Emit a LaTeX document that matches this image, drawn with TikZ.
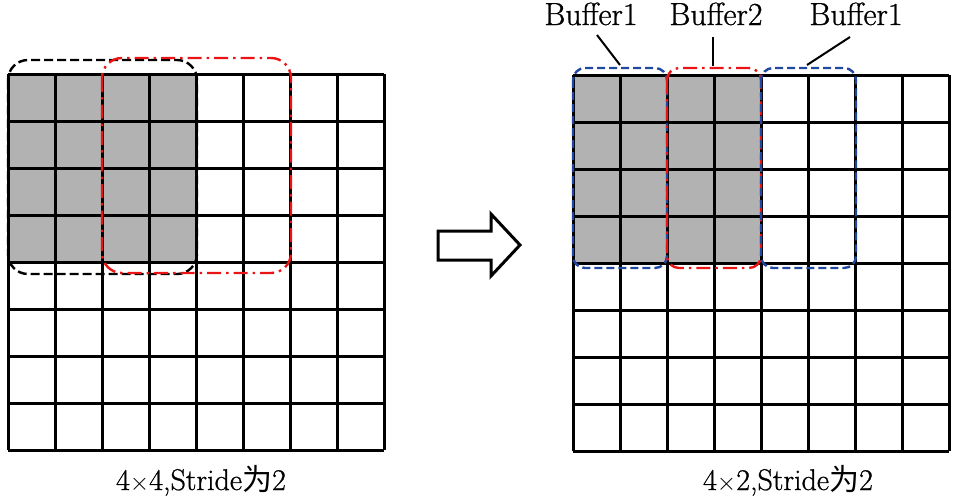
\documentclass[tikz,border=0pt]{standalone}
\usepackage{fontspec}
\newfontfamily\cjk{Noto Sans CJK SC}
\newfontfamily\heavy{Latin Modern Roman}[FakeBold=0.8]
\definecolor{cellgray}{RGB}{178,178,178}
\definecolor{bufblue}{RGB}{32,72,160}
\definecolor{bufred}{RGB}{235,20,20}
\tikzset{
  gridline/.style={line width=3pt, black},
  blackbox/.style={line width=2.4pt, black, dash pattern=on 9pt off 4pt, rounded corners=20pt},
  redbox/.style={line width=2.4pt, bufred, dash pattern=on 14pt off 5pt on 2.5pt off 5pt, rounded corners=20pt},
  bluebox/.style={line width=2.4pt, bufblue, dash pattern=on 8pt off 4pt, rounded corners=12pt},
  redboxs/.style={line width=2.4pt, bufred, dash pattern=on 14pt off 5pt on 2.5pt off 5pt, rounded corners=12pt},
  leader/.style={line width=2pt, black},
  lbl/.style={font=\heavy\fontsize{32}{34}\selectfont, inner sep=0pt, anchor=base},
  captext/.style={font=\heavy\fontsize{30}{32}\selectfont, inner sep=0pt, anchor=base},
  bigarrow/.style={line width=3pt, black, fill=white, line join=miter}
}
\begin{document}
\begin{tikzpicture}[x=1pt,y=-1pt]
\useasboundingbox (0,0) rectangle (958,496);
% ---------- left grid ----------
\fill[cellgray] (8,74) rectangle (196,262);
\foreach \i in {0,...,8}{
  \draw[gridline] (8+47*\i,74) -- (8+47*\i,450);
  \draw[gridline] (8,74+47*\i) -- (384,74+47*\i);
}
\draw[blackbox] (8,60) rectangle (197,274);
\draw[redbox] (102,58) rectangle (291,273);
% ---------- arrow ----------
\draw[bigarrow] (438,231) -- (491,231) -- (491,214) -- (520,245) -- (491,276) -- (491,260) -- (438,260) -- cycle;
% ---------- right grid ----------
\fill[cellgray] (573,75) rectangle (761,263);
\foreach \i in {0,...,8}{
  \draw[gridline] (573+47*\i,75) -- (573+47*\i,451);
  \draw[gridline] (573,75+47*\i) -- (949,75+47*\i);
}
\draw[bluebox] (573,68) rectangle (667,268);
\draw[redboxs] (667,68) rectangle (761,268);
\draw[bluebox] (761,68) rectangle (856,268);
% ---------- labels ----------
\node[lbl] (b1l) at (591,25) {Buffer1};
\node[lbl] (b2)  at (716,25) {Buffer2};
\node[lbl] (b1r) at (856,25) {Buffer1};
\coordinate (e1) at (620,65);
\coordinate (e2) at (713,66);
\coordinate (e3) at (807,65);
\coordinate (s1) at (597,35);
\coordinate (s2) at (713,37);
\coordinate (s3) at (850,37);
\draw[leader] (s1) -- (e1);
\draw[leader] (s2) -- (e2);
\draw[leader] (s3) -- (e3);
% ---------- captions ----------
\node[captext] (capL) at (201,490) {4$\times$4,Stride{\cjk 为}2};
\node[captext] (capR) at (788,490) {4$\times$2,Stride{\cjk 为}2};
\end{tikzpicture}
\end{document}
